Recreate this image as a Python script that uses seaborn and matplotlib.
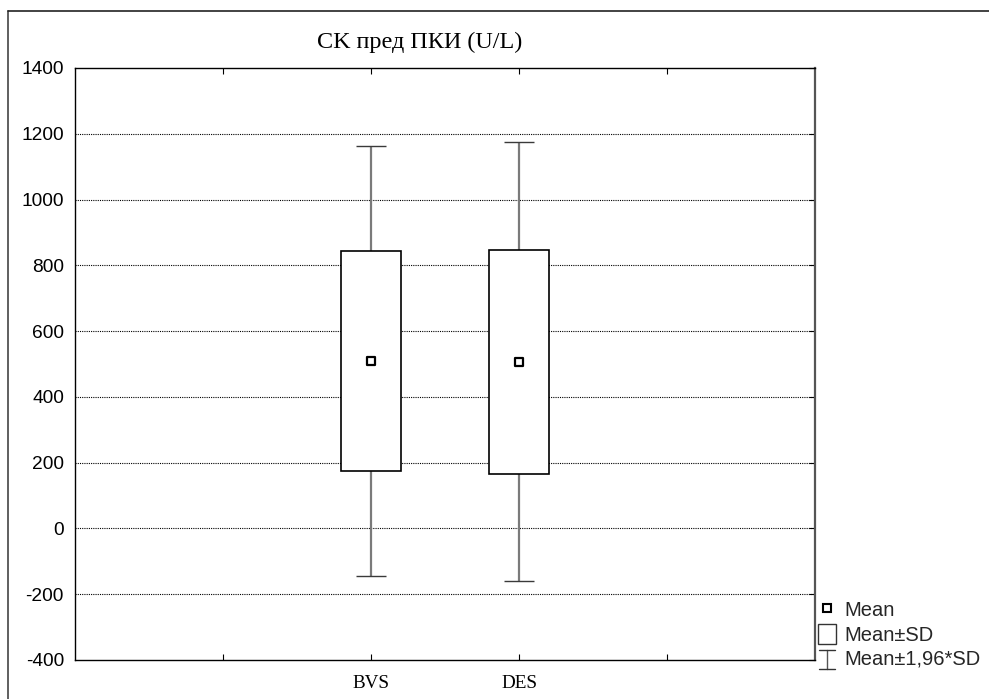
import numpy as np
import pandas as pd
import matplotlib
matplotlib.use("Agg")
import matplotlib.pyplot as plt
from matplotlib.lines import Line2D
from matplotlib.patches import Rectangle
from matplotlib.legend_handler import HandlerBase
import seaborn as sns

# Summary statistics per group
groups = ["BVS", "DES"]
means = [509.5, 507.5]
sds = [333.5, 340.5]
positions = [2, 3]
y_ticks = [-400, -200, 0, 200, 400, 600, 800, 1000, 1200, 1400]
title = "CK пред ПКИ (U/L)"
legend_labels = ["Mean", "Mean±SD", "Mean±1,96*SD"]

df = pd.DataFrame({"group": groups, "mean": means, "sd": sds, "pos": positions})
df["lo"] = df["mean"] - df["sd"]
df["ci"] = 1.96 * df["sd"]

sns.set_theme(style="white")
plt.rcParams["font.family"] = ["Liberation Sans", "DejaVu Sans"]

fig = plt.figure(figsize=(9.89, 6.99), dpi=100)
ax = fig.add_axes([75 / 989, 39 / 699, 740 / 989, 592 / 699])

# whiskers: mean ± 1.96*SD
ax.errorbar(df["pos"], df["mean"], yerr=df["ci"], fmt="none",
            ecolor="#7a7a7a", elinewidth=1.6, capsize=0, zorder=2)
for _, r in df.iterrows():
    for y in (r["mean"] - r["ci"], r["mean"] + r["ci"]):
        ax.hlines(y, r["pos"] - 0.1, r["pos"] + 0.1, color="#3a3a3a", lw=1.0, zorder=2)

# boxes: mean ± SD
ax.bar(df["pos"], 2 * df["sd"], bottom=df["lo"], width=0.4,
       facecolor="white", edgecolor="black", linewidth=1.2, zorder=3)

# mean markers
sns.scatterplot(data=df, x="pos", y="mean", marker="s", s=40,
                facecolor="white", edgecolor="black", linewidth=1.6,
                ax=ax, zorder=4, legend=False)

ax.set_xlim(0, 5)
ax.set_ylim(-400, 1400)
ax.set_xticks([1, 2, 3, 4])
ax.set_xticklabels(["", "BVS", "DES", ""], family=["Liberation Serif"], fontsize=13.8)
ax.set_yticks(y_ticks)
ax.set_yticklabels([str(v) for v in y_ticks], fontsize=13.8)
ax.set_xlabel("")
ax.set_ylabel("")
ax.grid(False)
for v in y_ticks[1:-1]:
    ax.axhline(v, color="black", lw=0.8, ls=(0, (1, 1)), zorder=1)

ax.tick_params(axis="x", which="both", direction="in", length=4, width=0.8,
               top=True, bottom=True, colors="black", pad=11)
ax.tick_params(axis="y", which="both", left=False, right=True, direction="in",
               length=4, width=0.8, colors="black", pad=8)
for side in ["left", "bottom", "top"]:
    ax.spines[side].set_color("black")
    ax.spines[side].set_linewidth(1.0)
ax.spines["right"].set_color("#555555")
ax.spines["right"].set_linewidth(1.6)

fig.text(420 / 989, 1 - 42 / 699, title, ha="center", va="center",
         family=["Liberation Serif"], fontsize=17.4, color="black")

# outer frame
fig.add_artist(Line2D([8 / 989, 8 / 989], [0, 1 - 11 / 699], transform=fig.transFigure,
                      color="#444444", lw=1.2))
fig.add_artist(Line2D([8 / 989, 1], [1 - 11 / 699, 1 - 11 / 699], transform=fig.transFigure,
                      color="#222222", lw=1.2))


class ErrHandler(HandlerBase):
    def create_artists(self, legend, orig_handle, xdescent, ydescent, width, height,
                       fontsize, trans):
        cx = width / 2 - xdescent
        h = height * 1.1
        y0 = -ydescent + (height - h) / 2 - 1
        w = width * 0.9
        return [
            Line2D([cx, cx], [y0, y0 + h], color="#555555", lw=1.0, transform=trans),
            Line2D([cx - w / 2, cx + w / 2], [y0, y0], color="#333333", lw=1.0, transform=trans),
            Line2D([cx - w / 2, cx + w / 2], [y0 + h, y0 + h], color="#333333", lw=1.0, transform=trans),
        ]


class BoxHandler(HandlerBase):
    def create_artists(self, legend, orig_handle, xdescent, ydescent, width, height,
                       fontsize, trans):
        h = height * 1.1
        w = width * 0.95
        x0 = -xdescent + (width - w) / 2
        y0 = -ydescent + (height - h) / 2
        return [Rectangle((x0, y0), w, h, facecolor="white", edgecolor="#333333",
                          lw=1.0, transform=trans)]


h_mean = Line2D([], [], marker="s", ls="none", markersize=6, markerfacecolor="white",
                markeredgecolor="black", markeredgewidth=1.5)
h_box = Rectangle((0, 0), 1, 1)
h_err = Line2D([], [])
leg = fig.legend([h_mean, h_box, h_err], legend_labels,
                 handler_map={Rectangle: BoxHandler(), h_err: ErrHandler()},
                 loc="lower left", bbox_to_anchor=(814 / 989, 26 / 699),
                 frameon=False, fontsize=14.5, handlelength=0.9, handleheight=1.0,
                 handletextpad=0.4, labelspacing=0.22, borderaxespad=0, borderpad=0.2)

fig.savefig("out.png", dpi=100, facecolor="white")
